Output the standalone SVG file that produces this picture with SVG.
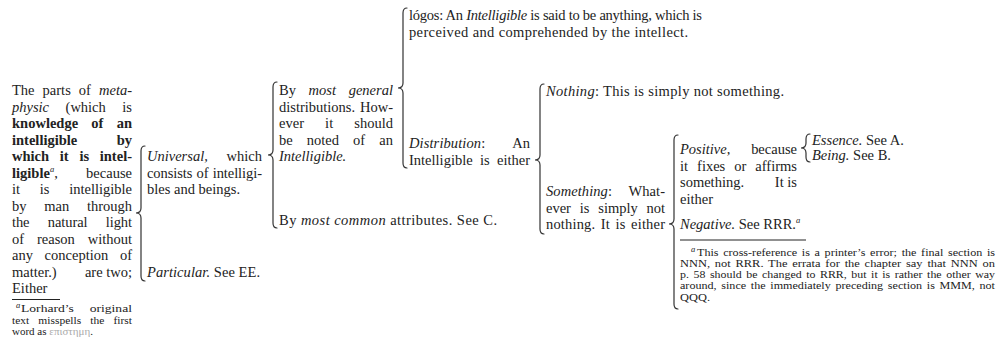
<svg xmlns="http://www.w3.org/2000/svg" width="998" height="345" viewBox="0 0 998 345">
<style>
text { font-family: "Liberation Serif", "Times New Roman", serif; font-size: 14.5px; fill: #222; }
.i { font-style: italic; }
.b { font-weight: bold; }
.e { text-anchor: end; }
.fn { font-size: 11px; }
.sup { font-size: 8.5px; font-style: italic; }
.br { fill: none; stroke: #333; stroke-width: 1.2; stroke-linecap: round; }
.rule { stroke: #222; stroke-width: 1; }
.gk { fill: #aaa; }
</style>
<rect width="998" height="345" fill="#fff"/>

<g id="node-root">
  <text x="12" y="95" word-spacing="4.4" textLength="120" lengthAdjust="spacing">The parts of <tspan class="i">meta-</tspan></text>
  <text x="12" y="111.5" word-spacing="12.9" textLength="120" lengthAdjust="spacing"><tspan class="i">physic</tspan> (which is</text>
  <text class="b" x="12" y="128" word-spacing="9.6" textLength="120" lengthAdjust="spacing">knowledge of an</text>
  <text class="b" x="12" y="144.5">intelligible</text><text class="b e" x="132" y="144.5">by</text>
  <text class="b" x="12" y="161" word-spacing="7.1" textLength="120" lengthAdjust="spacing">which it is intel-</text>
  <text x="12" y="177.5"><tspan class="b">ligible</tspan><tspan class="sup" dy="-6">a</tspan><tspan dy="6">,</tspan></text><text class="e" x="132" y="177.5">because</text>
  <text x="12" y="194" word-spacing="16.1" textLength="120" lengthAdjust="spacing">it is intelligible</text>
  <text x="12" y="210.5" word-spacing="14.1" textLength="120" lengthAdjust="spacing">by man through</text>
  <text x="12" y="227" word-spacing="14.8" textLength="120" lengthAdjust="spacing">the natural light</text>
  <text x="12" y="243.5" word-spacing="9.2" textLength="120" lengthAdjust="spacing">of reason without</text>
  <text x="12" y="260" word-spacing="8" textLength="120" lengthAdjust="spacing">any conception of</text>
  <text x="12" y="276.5">matter.)</text><text class="e" x="132" y="276.5">are two;</text>
  <text x="12" y="293">Either</text>
  <line class="rule" x1="12" y1="299.5" x2="60" y2="299.5"/>
  <text class="sup" x="16" y="308">a</text>
  <text class="fn" x="21" y="312" word-spacing="10" textLength="111" lengthAdjust="spacingAndGlyphs">Lorhard’s original</text>
  <text class="fn" x="12" y="323.5" word-spacing="6" textLength="120" lengthAdjust="spacingAndGlyphs">text misspells the first</text>
  <text class="fn" x="12" y="335">word as <tspan class="gk">επιστημη</tspan>.</text>
</g>

<g id="node-universal">
  <text class="i" x="147" y="161">Universal,</text><text class="e" x="262" y="161">which</text>
  <text x="147" y="177.5" word-spacing="0.6" textLength="115" lengthAdjust="spacing">consists of intelligi-</text>
  <text x="147" y="194">bles and beings.</text>
</g>

<g id="node-particular">
  <text x="147" y="277" textLength="113" lengthAdjust="spacing"><tspan class="i">Particular.</tspan> See EE.</text>
</g>

<g id="node-general">
  <text x="279" y="95" word-spacing="9" textLength="114" lengthAdjust="spacing">By <tspan class="i">most general</tspan></text>
  <text x="279" y="111.5" word-spacing="1.2" textLength="114" lengthAdjust="spacing">distributions. How-</text>
  <text x="279" y="128" word-spacing="17.5" textLength="114" lengthAdjust="spacing">ever it should</text>
  <text x="279" y="144.5" word-spacing="10.5" textLength="114" lengthAdjust="spacing">be noted of an</text>
  <text class="i" x="279" y="161">Intelligible.</text>
</g>

<g id="node-common">
  <text x="279" y="225" textLength="218" lengthAdjust="spacing">By <tspan class="i">most common</tspan> attributes. See C.</text>
</g>

<g id="node-logos">
  <text x="409" y="20" textLength="293" lengthAdjust="spacing">lógos: An <tspan class="i">Intelligible</tspan> is said to be anything, which is</text>
  <text x="409" y="36.5" textLength="279" lengthAdjust="spacing">perceived and comprehended by the intellect.</text>
</g>

<g id="node-distribution">
  <text x="409" y="148" word-spacing="23.9" textLength="121" lengthAdjust="spacing"><tspan class="i">Distribution</tspan>: An</text>
  <text x="409" y="164.5" word-spacing="3.7" textLength="121" lengthAdjust="spacing">Intelligible is either</text>
</g>

<g id="node-nothing">
  <text x="546" y="96" textLength="238" lengthAdjust="spacing"><tspan class="i">Nothing</tspan>: This is simply not something.</text>
</g>

<g id="node-something">
  <text x="546" y="196" word-spacing="13" textLength="119" lengthAdjust="spacing"><tspan class="i">Something</tspan>: What-</text>
  <text x="546" y="212.5" word-spacing="5.2" textLength="119" lengthAdjust="spacing">ever is simply not</text>
  <text x="546" y="229" word-spacing="1.7" textLength="119" lengthAdjust="spacing">nothing. It is either</text>
</g>

<g id="node-positive">
  <text x="680" y="154" word-spacing="17.2" textLength="117" lengthAdjust="spacing"><tspan class="i">Positive,</tspan> because</text>
  <text x="680" y="170.5" word-spacing="5.3" textLength="117" lengthAdjust="spacing">it fixes or affirms</text>
  <text x="680" y="187">something.</text><text class="e" x="797" y="187">It is</text>
  <text x="680" y="203.5">either</text>
</g>

<g id="node-essence">
  <text x="812" y="144.5"><tspan class="i">Essence.</tspan> See A.</text>
</g>

<g id="node-being">
  <text x="812" y="160"><tspan class="i">Being.</tspan> See B.</text>
</g>

<g id="node-negative">
  <text x="680" y="229"><tspan class="i">Negative.</tspan> See RRR.<tspan class="sup" dy="-6">a</tspan></text>
  <line class="rule" x1="680" y1="240" x2="806" y2="240"/>
  <text class="sup" x="691" y="251.5">a</text>
  <text class="fn" x="697" y="255.5" word-spacing="1.5" textLength="298" lengthAdjust="spacingAndGlyphs">This cross-reference is a printer’s error; the final section is</text>
  <text class="fn" x="680" y="266.8" word-spacing="1.5" textLength="315" lengthAdjust="spacingAndGlyphs">NNN, not RRR. The errata for the chapter say that NNN on</text>
  <text class="fn" x="680" y="278.1" word-spacing="1.5" textLength="315" lengthAdjust="spacingAndGlyphs">p. 58 should be changed to RRR, but it is rather the other way</text>
  <text class="fn" x="680" y="289.4" word-spacing="1.5" textLength="315" lengthAdjust="spacingAndGlyphs">around, since the immediately preceding section is MMM, not</text>
  <text class="fn" x="680" y="300.7" textLength="30" lengthAdjust="spacingAndGlyphs">QQQ.</text>
</g>

<g id="connectors">
  <path class="br" d="M145,146 C142,146 141,148 141,151 L141,208 C141,211 139,213 136,213 C139,213 141,215 141,218 L141,276 C141,279 142,281 145,281"/>
  <path class="br" d="M277,82 C274,82 273,84 273,87 L273,150 C273,153 271,155 268,155 C271,155 273,157 273,160 L273,223 C273,226 274,228 277,228"/>
  <path class="br" d="M407,8 C404,8 403,10 403,13 L403,83 C403,86 401,88 398,88 C401,88 403,90 403,93 L403,163 C403,166 404,168 407,168"/>
  <path class="br" d="M544,84 C541,84 540,86 540,89 L540,155 C540,158 538,160 535,160 C538,160 540,162 540,165 L540,229 C540,232 541,234 544,234"/>
  <path class="br" d="M678,135 C675,135 674,137 674,140 L674,219 C674,222 672,224 669,224 C672,224 674,226 674,229 L674,304 C674,307 675,309 678,309"/>
  <path class="br" d="M810,134 C807,134 806,136 806,139 L806,143 C806,146 804,148 801,148 C804,148 806,150 806,153 L806,157 C806,160 807,162 810,162"/>
</g>
</svg>
